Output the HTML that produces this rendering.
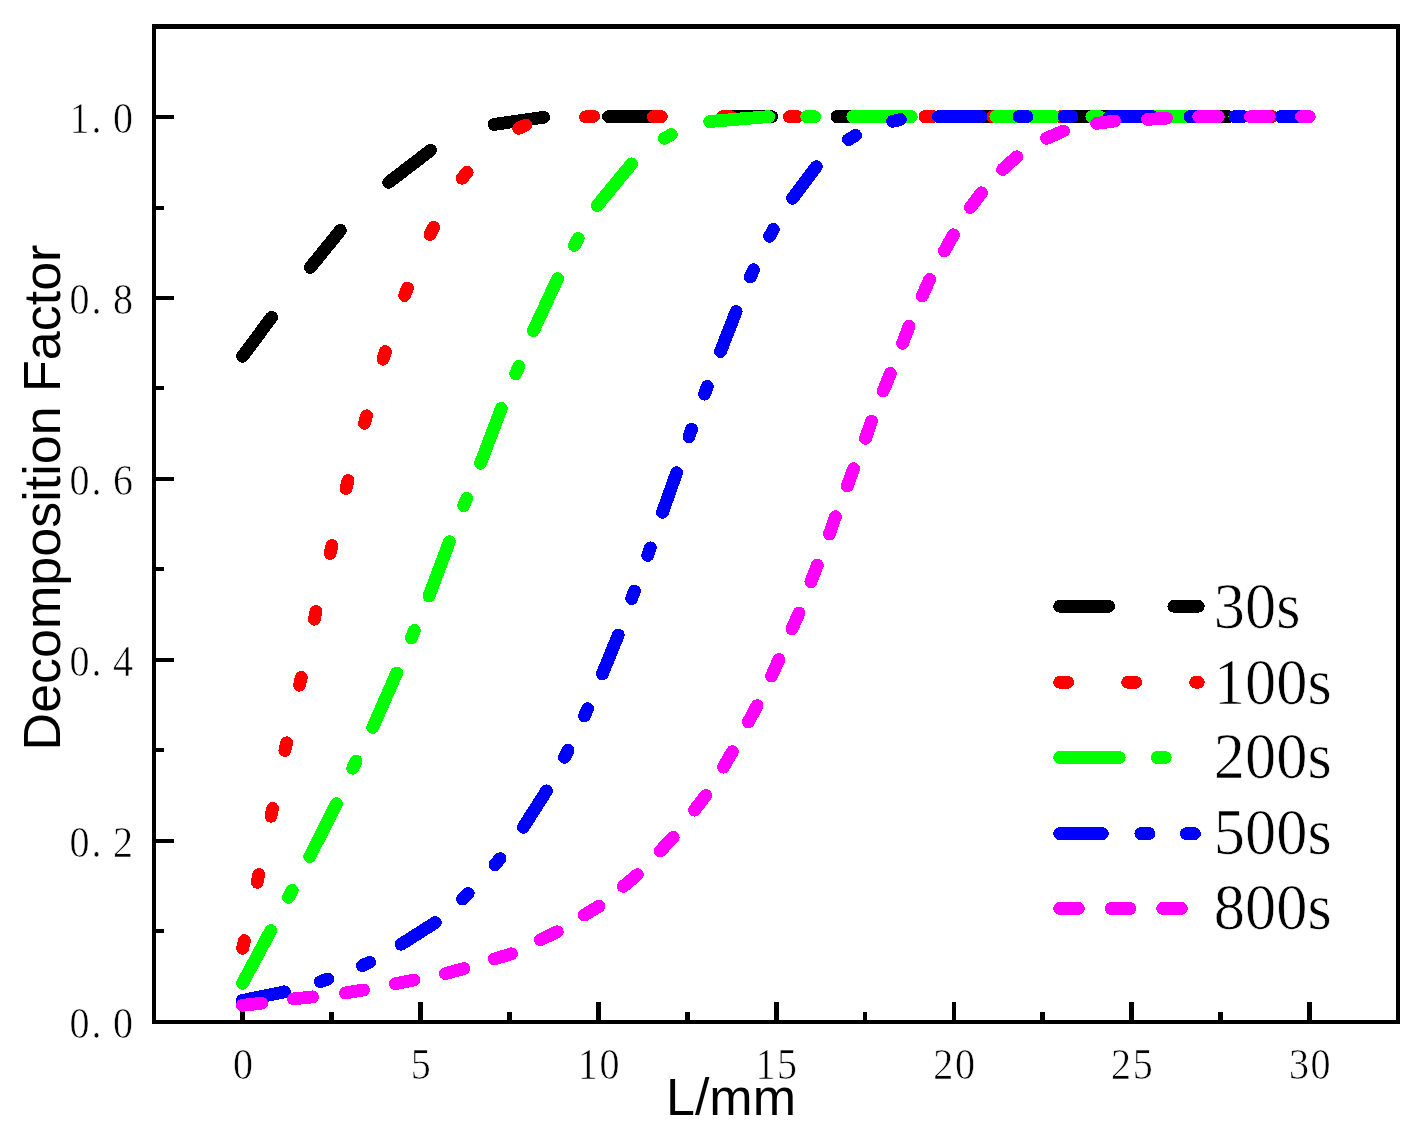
<!DOCTYPE html>
<html><head><meta charset="utf-8"><title>Decomposition Factor</title>
<style>html,body{margin:0;padding:0;background:#fff;}body{width:1416px;height:1140px;overflow:hidden;font-family:"Liberation Sans",sans-serif;}svg{display:block;will-change:transform;}</style>
</head><body>
<svg width="1416" height="1140" viewBox="0 0 1416 1140">
<rect width="1416" height="1140" fill="#fff"/>
<g fill="#000" shape-rendering="crispEdges"><rect x="152" y="24" width="1248" height="5"/><rect x="152" y="1020" width="1248" height="4"/><rect x="152" y="24" width="4" height="1000"/><rect x="1396" y="24" width="4" height="1000"/><rect x="156" y="929.3" width="8" height="4"/><rect x="156" y="838.8" width="18" height="4"/><rect x="156" y="748.4" width="8" height="4"/><rect x="156" y="657.9" width="18" height="4"/><rect x="156" y="567.4" width="8" height="4"/><rect x="156" y="476.9" width="18" height="4"/><rect x="156" y="386.4" width="8" height="4"/><rect x="156" y="296.0" width="18" height="4"/><rect x="156" y="205.5" width="8" height="4"/><rect x="156" y="115.0" width="18" height="4"/><rect x="240.4" y="1002" width="4.8" height="18"/><rect x="329.3" y="1012" width="4.8" height="8"/><rect x="418.2" y="1002" width="4.8" height="18"/><rect x="507.1" y="1012" width="4.8" height="8"/><rect x="596.0" y="1002" width="4.8" height="18"/><rect x="684.9" y="1012" width="4.8" height="8"/><rect x="773.7" y="1002" width="4.8" height="18"/><rect x="862.6" y="1012" width="4.8" height="8"/><rect x="951.5" y="1002" width="4.8" height="18"/><rect x="1040.4" y="1012" width="4.8" height="8"/><rect x="1129.3" y="1002" width="4.8" height="18"/><rect x="1218.2" y="1012" width="4.8" height="8"/><rect x="1307.1" y="1002" width="4.8" height="18"/></g>
<g fill="none" shape-rendering="crispEdges" stroke-linecap="round" stroke-linejoin="round" stroke-width="12.8">
<path stroke="#000" d="M242.5 356.3L271.6 317.3M310.3 267.4L340.4 230.4M388.6 182.4L430.6 150.3M494.1 124.4L543.6 117.3M608.5 116.6L657.5 116.6M722.7 116.6L771.7 116.6M836.9 116.6L885.9 116.6M951.1 116.6L1000.1 116.6M1065.3 116.6L1114.3 116.6M1179.5 116.6L1228.5 116.6M1293.7 116.6L1309.3 116.6"/>
<path stroke="#f00" d="M242.6 948.4L244.4 940.6M257.2 882.3L258.8 874.5M271.0 816.3L272.6 808.5M284.9 750.6L286.7 742.8M299.5 685.2L301.3 677.4M314.3 619.2L316.1 611.4M330.1 553.4L331.9 545.6M346.1 488.4L348.1 480.6M364.4 423.4L366.6 415.8M383.0 359.2L385.4 351.6M404.6 295.5L407.4 288.1M430.0 234.6L433.6 227.4M462.0 178.3L467.2 172.3M518.7 128.4L525.9 125.0M585.5 116.9L593.5 116.3M653.4 116.6L661.4 116.6M722.7 116.6L730.7 116.6M789.4 116.6L797.4 116.6M857.2 116.6L865.2 116.6M925.0 116.6L933.0 116.6M992.8 116.6L1000.8 116.6M1060.6 116.6L1068.6 116.6M1128.4 116.6L1136.4 116.6M1196.2 116.6L1204.2 116.6M1264.0 116.6L1272.0 116.6"/>
<path stroke="#0f0" d="M242.5 983.3L270.8 930.6M309.7 856.6L336.5 803.7M372.8 727.4L396.7 673.0M429.0 596.1L449.4 541.6M480.5 463.3L501.3 408.5M533.4 330.7L557.6 278.7M597.3 205.5L631.5 163.9M709.6 121.5L768.6 116.6M852.8 116.6L911.3 116.6M995.8 116.6L1054.3 116.6M1138.8 116.6L1197.3 116.6M1281.8 116.6L1309.3 116.6M288.4 897.4L292.2 890.4M352.7 768.2L356.1 761.0M411.4 637.9L414.4 630.5M463.7 505.7L466.7 498.3M515.7 373.9L518.7 366.5M574.4 245.5L578.2 238.5M664.4 138.4L671.4 134.6M806.6 116.6L814.6 116.6M948.8 116.6L956.8 116.6M1091.8 116.6L1099.8 116.6M1234.8 116.6L1242.8 116.6"/>
<path stroke="#00f" d="M242.4 1000.5L284.5 991.8M401.1 944.3L435.4 922.5M523.3 827.3L546.5 790.9M602.4 673.9L618.3 635.0M662.5 512.4L676.6 472.7M720.5 351.5L736.1 311.6M792.5 198.4L816.3 166.6M938.5 116.6L981.0 116.6M1109.5 116.6L1152.0 116.6M1280.5 116.6L1309.3 116.6M320.2 981.7L327.8 979.1M362.4 965.6L369.6 962.2M462.5 899.1L468.3 893.5M494.9 864.8L500.1 858.6M564.5 757.4L568.1 750.2M584.4 716.0L587.6 708.8M631.6 598.6L634.4 591.0M647.7 555.5L650.3 547.9M689.0 436.7L691.6 429.1M704.5 394.1L707.3 386.5M750.3 277.0L753.5 269.8M769.6 236.4L773.4 229.4M848.5 139.5L855.5 135.5M892.6 121.3L900.4 119.5M1019.0 116.6L1027.0 116.6M1064.0 116.6L1072.0 116.6M1190.0 116.6L1198.0 116.6M1235.0 116.6L1243.0 116.6"/>
<path stroke="#f0f" d="M242.4 1005.4L261.6 1003.2M293.5 998.9L312.5 996.9M345.5 993.0L363.5 990.0M395.4 983.7L414.0 980.0M445.5 973.6L463.8 968.6M494.3 959.0L511.4 953.8M540.4 939.7L557.2 931.8M584.2 915.1L599.1 906.2M623.3 886.4L637.3 874.7M660.1 851.1L673.2 837.4M694.4 810.2L705.7 795.5M723.4 767.2L732.4 751.6M748.4 721.9L757.1 705.7M771.6 676.0L778.9 659.6M791.9 629.0L799.0 612.9M810.9 581.7L817.3 565.1M829.4 534.0L835.4 516.7M847.3 486.0L853.6 468.7M865.5 438.4L871.5 421.3M883.2 391.0L890.3 373.5M902.6 343.2L909.1 326.2M922.2 296.1L929.6 279.5M944.4 250.9L953.4 234.8M970.4 207.5L981.5 192.8M1002.5 169.5L1016.8 156.7M1046.5 138.3L1063.4 131.0M1096.7 123.4L1114.5 121.0M1147.5 119.4L1166.5 118.2M1198.7 116.6L1218.3 116.6M1250.5 116.6L1269.3 116.6M1301.5 116.6L1309.3 116.6"/>
<path stroke="#000000" stroke-dasharray="49 65.2" d="M1059.6 606.3H1198.3"/>
<path stroke="#ff0000" stroke-dasharray="8 60" d="M1059.6 682.3H1198.3"/>
<path stroke="#00ff00" stroke-dasharray="59.7 38 8 38" d="M1059.6 757.5H1198.3"/>
<path stroke="#0000ff" stroke-dasharray="42.8 38.4 8.2 37.3 8.2 37" d="M1059.6 833.6H1198.3"/>
<path stroke="#ff00ff" stroke-dasharray="18.8 32.7" d="M1059.6 908.5H1198.3"/>
</g>
<g fill="#000" stroke="#fff" stroke-width="0.6" font-family="Liberation Serif" font-size="44.5"><text transform="translate(79.5 1038.1) scale(0.900 1)" text-anchor="middle">0</text><text transform="translate(96.4 1038.1) scale(0.900 1)" text-anchor="middle">.</text><text transform="translate(122.9 1038.1) scale(0.900 1)" text-anchor="middle">0</text><text transform="translate(79.5 857.1) scale(0.900 1)" text-anchor="middle">0</text><text transform="translate(96.4 857.1) scale(0.900 1)" text-anchor="middle">.</text><text transform="translate(122.9 857.1) scale(0.900 1)" text-anchor="middle">2</text><text transform="translate(79.5 676.2) scale(0.900 1)" text-anchor="middle">0</text><text transform="translate(96.4 676.2) scale(0.900 1)" text-anchor="middle">.</text><text transform="translate(122.9 676.2) scale(0.900 1)" text-anchor="middle">4</text><text transform="translate(79.5 495.2) scale(0.900 1)" text-anchor="middle">0</text><text transform="translate(96.4 495.2) scale(0.900 1)" text-anchor="middle">.</text><text transform="translate(122.9 495.2) scale(0.900 1)" text-anchor="middle">6</text><text transform="translate(79.5 314.3) scale(0.900 1)" text-anchor="middle">0</text><text transform="translate(96.4 314.3) scale(0.900 1)" text-anchor="middle">.</text><text transform="translate(122.9 314.3) scale(0.900 1)" text-anchor="middle">8</text><text transform="translate(79.5 133.3) scale(0.900 1)" text-anchor="middle">1</text><text transform="translate(96.4 133.3) scale(0.900 1)" text-anchor="middle">.</text><text transform="translate(122.9 133.3) scale(0.900 1)" text-anchor="middle">0</text><text transform="translate(243.0 1078.6) scale(0.900 1)" text-anchor="middle">0</text><text transform="translate(420.8 1078.6) scale(0.900 1)" text-anchor="middle">5</text><text transform="translate(587.8 1078.6) scale(0.900 1)" text-anchor="middle">1</text><text transform="translate(609.4 1078.6) scale(0.900 1)" text-anchor="middle">0</text><text transform="translate(765.5 1078.6) scale(0.900 1)" text-anchor="middle">1</text><text transform="translate(787.1 1078.6) scale(0.900 1)" text-anchor="middle">5</text><text transform="translate(943.3 1078.6) scale(0.900 1)" text-anchor="middle">2</text><text transform="translate(964.9 1078.6) scale(0.900 1)" text-anchor="middle">0</text><text transform="translate(1121.1 1078.6) scale(0.900 1)" text-anchor="middle">2</text><text transform="translate(1142.7 1078.6) scale(0.900 1)" text-anchor="middle">5</text><text transform="translate(1298.9 1078.6) scale(0.900 1)" text-anchor="middle">3</text><text transform="translate(1320.5 1078.6) scale(0.900 1)" text-anchor="middle">0</text></g>
<g fill="#000" stroke="#fff" stroke-width="0.7" font-family="Liberation Serif" font-size="65">
<text transform="translate(1213.8 627.6) scale(0.96 1)">30s</text>
<text transform="translate(1213.8 703.5) scale(0.96 1)">100s</text>
<text transform="translate(1213.8 777.6) scale(0.96 1)">200s</text>
<text transform="translate(1213.8 853.9) scale(0.96 1)">500s</text>
<text transform="translate(1213.8 928.9) scale(0.96 1)">800s</text>
</g>
<text x="731" y="1115.2" text-anchor="middle" font-family="Liberation Sans" font-size="52" fill="#000">L/mm</text>
<text transform="translate(60 497.5) rotate(-90)" x="0" y="0" text-anchor="middle" font-family="Liberation Sans" font-size="52" fill="#000">Decomposition Factor</text>
</svg>
</body></html>
